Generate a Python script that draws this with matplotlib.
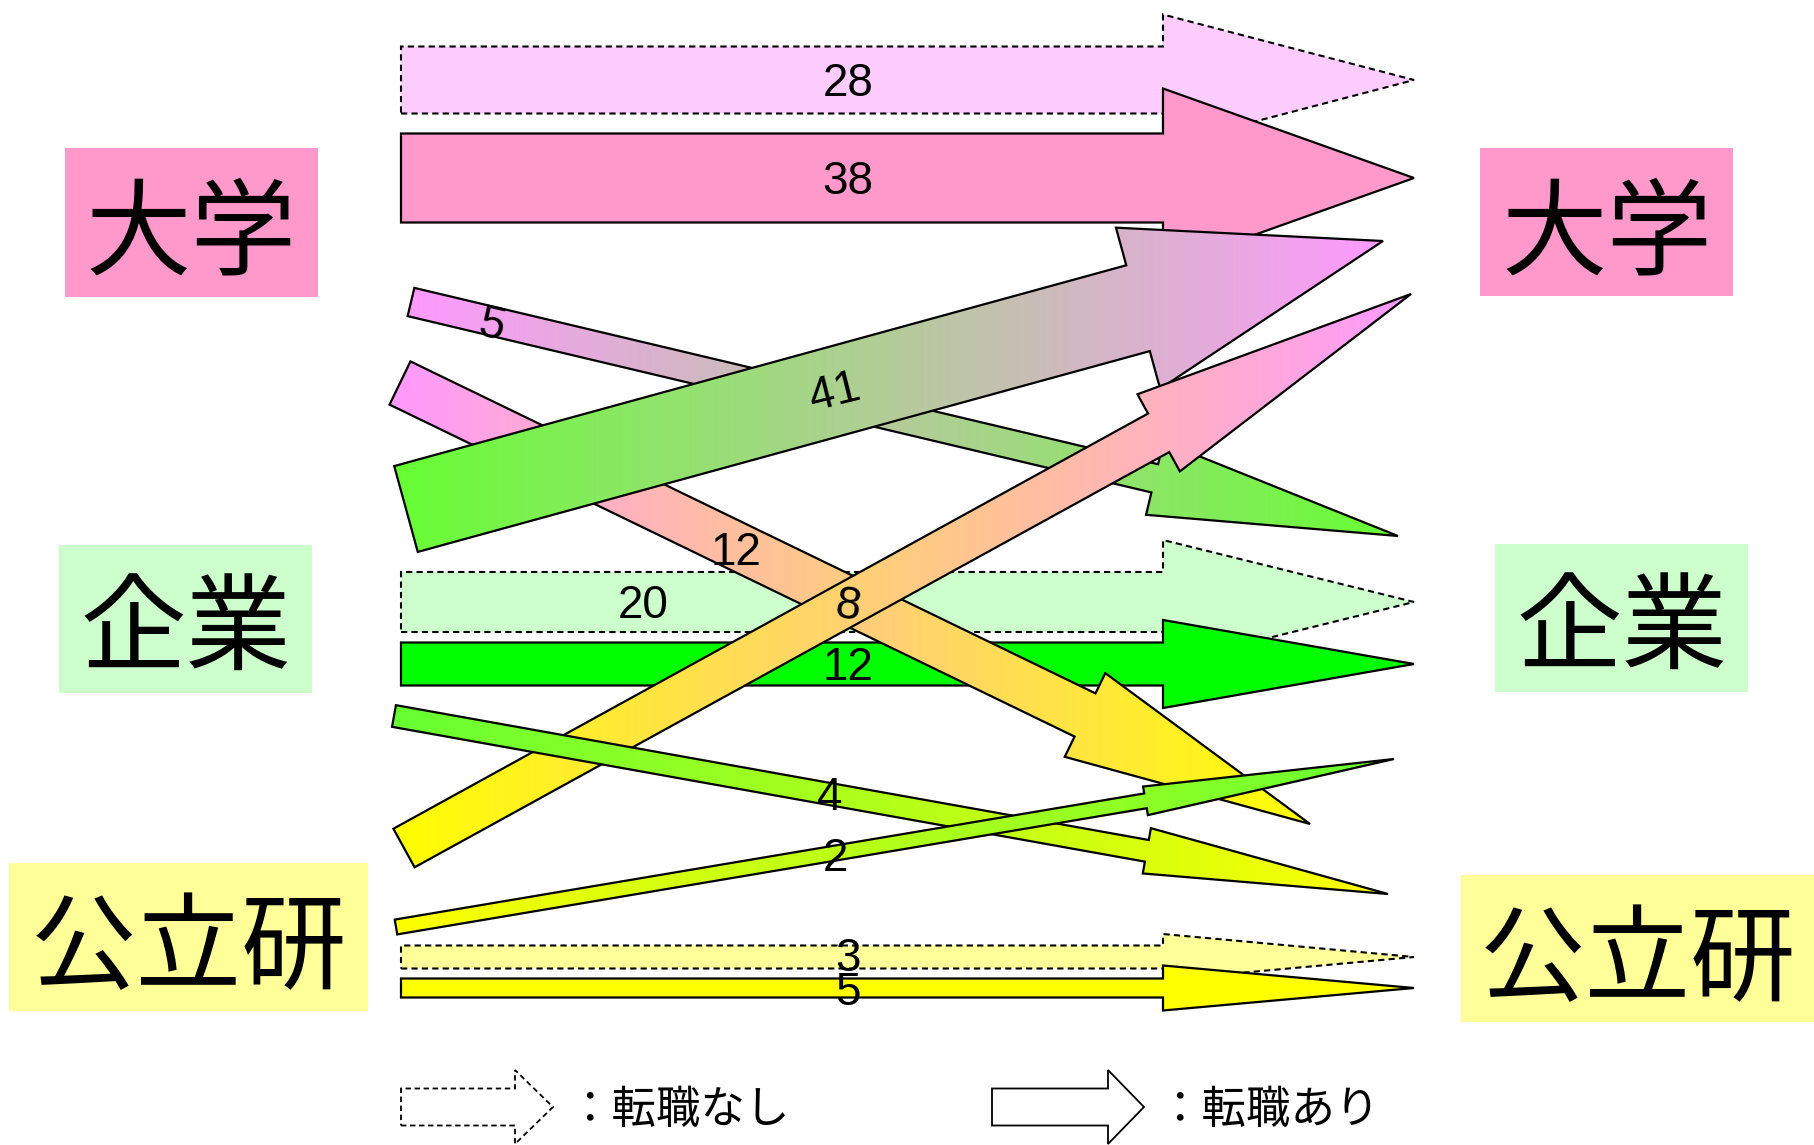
import numpy as np
import matplotlib
matplotlib.use('Agg')
import matplotlib.pyplot as plt
from matplotlib.patches import Polygon, Rectangle
from matplotlib.colors import to_rgb

plt.rcParams['font.family'] = ['Noto Sans CJK JP', 'DejaVu Sans']

# --- data ---
categories = ['大学', '企業', '公立研']
box_colors = ['#FF99CC', '#CCFFCC', '#FFFF99']
stay_no_change = [28, 20, 3]      # 転職なし (dashed)
stay_changed = [38, 12, 5]        # 転職あり (solid, same sector)
solid_colors = ['#FF99CC', '#00FF00', '#FFFF00']
light_colors = ['#FFCCFF', '#CCFFCC', '#FFFF99']
grad_colors = ['#FF99FF', '#66FF33', '#FFFF00']

# cross-sector moves: source index, target index, count
cross_src = [0, 0, 1, 2, 1, 2]
cross_dst = [1, 2, 0, 0, 2, 1]
cross_val = [5, 12, 41, 8, 4, 2]

legend_labels = ['：転職なし', '：転職あり']

# --- layout (pixel coordinates, y down) ---
W, H = 1814, 1145
left_boxes = [(65, 148, 253, 149), (59, 545, 253, 148), (9, 863, 359, 148)]
right_boxes = [(1480, 148, 253, 148), (1495, 544, 253, 148), (1461, 875, 353, 147)]

x_tail, x_tip = 401, 1414
head_len_h = 1414 - 1163
# (center y, shaft width, head width) for horizontal arrows
no_geom = [(80, 67, 131), (602, 60, 124), (957, 23, 46)]
yes_geom = [(178, 89, 179), (664, 43, 88), (988, 19, 45)]
label_y_no = [84, 606, 959]
label_x_no = [848, 643, 848]
label_y_yes = [182, 668, 993]

# cross arrows: tail(x,y), tip(x,y), shaft w, head w, head len
cross_geom = [
    ((411, 302), (1398, 536), 29, 75, 250),
    ((400, 383), (1310, 824), 48, 93, 250),
    ((406, 509), (1383, 241), 89, 167, 254),
    ((404, 848), (1411, 294), 44, 88, 288),
    ((394, 716), (1388, 894), 22, 46, 245),
    ((396, 927), (1394, 759), 15, 29, 252),
]
cross_label_pos = [(491, 326, -13), (736, 553, 0), (835, 393, 14),
                   (848, 607, -8), (830, 798, 0), (835, 859, 0)]


def arrow_poly(p0, p1, w, hw, hl):
    p0 = np.array(p0, float)
    p1 = np.array(p1, float)
    u = (p1 - p0) / np.linalg.norm(p1 - p0)
    n = np.array([-u[1], u[0]])
    b = p1 - u * hl
    return np.array([p0 + n * w / 2, b + n * w / 2, b + n * hw / 2, p1,
                     b - n * hw / 2, b - n * w / 2, p0 - n * w / 2])


def grad_arrow(ax, pts, c0, c1, z):
    xmin, xmax = pts[:, 0].min(), pts[:, 0].max()
    ymin, ymax = pts[:, 1].min(), pts[:, 1].max()
    t = np.linspace(0, 1, 256)[None, :, None]
    img = (1 - t) * np.array(to_rgb(c0)) + t * np.array(to_rgb(c1))
    img = np.repeat(img, 2, axis=0)
    poly = Polygon(pts, closed=True, facecolor='none', edgecolor='black',
                   lw=1.6, zorder=z + 0.1)
    ax.add_patch(poly)
    im = ax.imshow(img, extent=(xmin, xmax, ymax, ymin), aspect='auto',
                   interpolation='bilinear', zorder=z)
    im.set_clip_path(poly)


fig = plt.figure(figsize=(W / 100, H / 100), dpi=100)
ax = fig.add_axes([0, 0, 1, 1])
ax.set_xlim(0, W)
ax.set_ylim(H, 0)
ax.axis('off')

# sector boxes
for i, name in enumerate(categories):
    for (bx, by, bw, bh) in (left_boxes[i], right_boxes[i]):
        ax.add_patch(Rectangle((bx, by), bw, bh, facecolor=box_colors[i],
                               edgecolor='none', zorder=1))
        ax.text(bx + bw / 2, by + bh / 2 + 14, name, fontsize=76,
                ha='center', va='center', zorder=2)

# horizontal arrows (same sector)
for i in range(3):
    cy, w, hw = no_geom[i]
    pts = arrow_poly((x_tail, cy), (x_tip, cy), w, hw, head_len_h)
    ax.add_patch(Polygon(pts, closed=True, facecolor=light_colors[i],
                         edgecolor='black', lw=1.5, ls=(0, (3, 2)), zorder=3))
    cy, w, hw = yes_geom[i]
    pts = arrow_poly((x_tail, cy), (x_tip, cy), w, hw, head_len_h)
    ax.add_patch(Polygon(pts, closed=True, facecolor=solid_colors[i],
                         edgecolor='black', lw=1.6, zorder=4))

# cross arrows with gradient
for k in range(len(cross_val)):
    p0, p1, w, hw, hl = cross_geom[k]
    pts = arrow_poly(p0, p1, w, hw, hl)
    grad_arrow(ax, pts, grad_colors[cross_src[k]], grad_colors[cross_dst[k]], 5 + k)

ax.set_xlim(0, W)
ax.set_ylim(H, 0)

# value labels
num_font = ['Liberation Sans', 'DejaVu Sans']
for i in range(3):
    ax.text(label_x_no[i], label_y_no[i], str(stay_no_change[i]), fontsize=33,
            family=num_font, ha='center', va='center', zorder=20)
    ax.text(848, label_y_yes[i], str(stay_changed[i]), fontsize=33,
            family=num_font, ha='center', va='center', zorder=20)
for k, v in enumerate(cross_val):
    lx, ly, rot = cross_label_pos[k]
    ax.text(lx, ly, str(v), fontsize=33, family=num_font, rotation=rot,
            ha='center', va='center', zorder=20)

# legend
pts = arrow_poly((401, 1107), (553, 1107), 37, 74, 38)
ax.add_patch(Polygon(pts, closed=True, facecolor='white', edgecolor='black',
                     lw=1.3, ls=(0, (3, 2)), zorder=3))
ax.text(567, 1110, legend_labels[0], fontsize=32, ha='left', va='center')
pts = arrow_poly((992, 1107), (1144, 1107), 37, 74, 36)
ax.add_patch(Polygon(pts, closed=True, facecolor='white', edgecolor='black',
                     lw=1.3, zorder=3))
ax.text(1157, 1110, legend_labels[1], fontsize=32, ha='left', va='center')

fig.savefig('out.png', dpi=100, facecolor='white')
